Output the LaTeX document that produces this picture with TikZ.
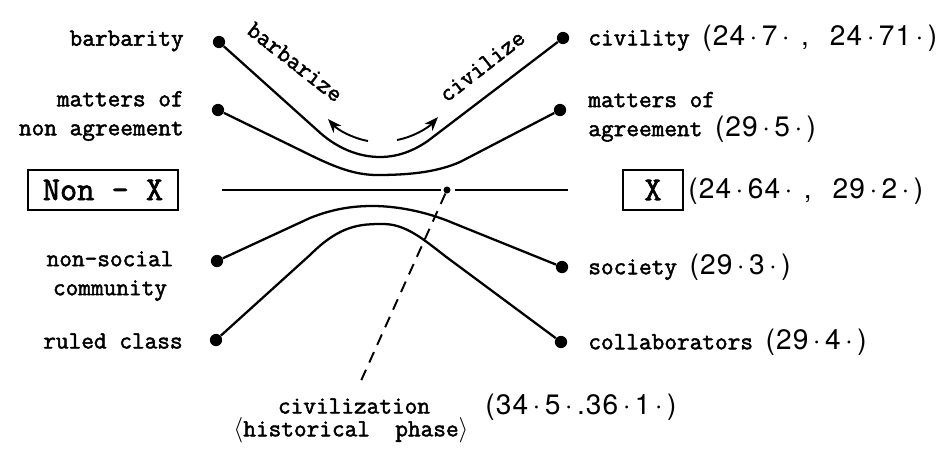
\documentclass[tikz,border=0pt]{standalone}
\usepackage{fontspec}
\newfontfamily\twfont{Latin Modern Mono}[FakeBold=2]
\newfontfamily\numfont{TeX Gyre Heros}[LetterSpace=4]
\usetikzlibrary{arrows.meta}
\newcommand{\md}{\kern2.5pt·\kern2.5pt}
\newcommand{\nums}[1]{{\fontsize{16}{18}\numfont #1}}

\begin{document}
\begin{tikzpicture}[x=0.02cm, y=-0.02cm,
    every node/.style={font=\fontsize{14}{16.5}\twfont, inner sep=0pt},
    dot/.style={circle, fill=black, minimum size=7pt},
    crossdot/.style={circle, fill=black, minimum size=4pt},
    boxed/.style={draw, line width=1.1pt, font=\fontsize{19}{22}\twfont, minimum height=22.7pt},
    curveline/.style={line width=1.3pt},
    axis/.style={line width=1.7pt},
    turn/.style={line width=1.1pt, -{Stealth[length=8pt, width=6pt, inset=2.5pt]}}]

\useasboundingbox (0,0) rectangle (950,450);

% end dots on the left
\node[dot] (bar) at (219,42) {};
\node[dot] (nag) at (218,110) {};
\node[dot] (nsc) at (217,261) {};
\node[dot] (rul) at (216,340) {};

% end dots on the right
\node[dot] (civ) at (563,38) {};
\node[dot] (agr) at (560,110) {};
\node[dot] (soc) at (562,267) {};
\node[dot] (col) at (561,342) {};

% middle line
\coordinate (axl) at (222,190);
\coordinate (axr) at (568,190);
\node[crossdot] (mid) at (447,190) {};
\coordinate (dashend) at (360,383);

% labels on the left
\node[anchor=east] (lbar) at (184,41) {barbarity};
\node[anchor=east, align=right] (lnag) at (184,116) {matters of\\non agreement};
\node[boxed, minimum width=85pt] (nonx) at (103,190) {Non - X};
\node[align=center] (lnsc) at (110,276) {non-social\\community};
\node[anchor=east] (lrul) at (183,341) {ruled class};

% labels on the right
\node[anchor=west] (lciv) at (588,38) {civility \nums{(24\md 7\md\hspace{4pt},\hspace{12pt}24\md 71\md)}};
\node[anchor=west, align=left] (lagr) at (588,117) {matters of\\agreement \nums{(29\md 5\md)}};
\node[boxed, minimum width=34pt] (xbox) at (653,190) {X};
\node[anchor=west] (lx) at (688,191) {\nums{(24\md 64\md\hspace{4pt},\hspace{12pt}29\md 2\md)}};
\node[anchor=west] (lsoc) at (588,267) {society \nums{(29\md 3\md)}};
\node[anchor=west] (lcol) at (588,342) {collaborators \nums{(29\md 4\md)}};

% bottom
\node (phase) at (354,406) {civilization};
\node (hist) at (351,430) {$\langle$historical\ \ phase$\rangle$};
\node[anchor=west] (lphase) at (485,407) {\nums{(34\md 5\md.36\md 1\md)}};

% verbs
\node[rotate=-38] (lbarb) at (295,62) {barbarize};
\node[rotate=38] (lcivz) at (482,66) {civilize};

% curves
\draw[curveline] (bar) -- (317,130) .. controls (335,147) and (357,157) .. (380,157)
    .. controls (400,157) and (418,149) .. (433,137) -- (civ);
\draw[curveline] (nag) -- (300,150) .. controls (330,165) and (352,175) .. (377,175)
    .. controls (405,175) and (435,173) .. (460,162) -- (agr);
\draw[curveline] (nsc) -- (310,218) .. controls (335,208) and (355,206) .. (373,206)
    .. controls (395,206) and (425,211) .. (453,223) -- (soc);
\draw[curveline] (rul) -- (310,255) .. controls (340,225) and (360,224) .. (383,224)
    .. controls (405,224) and (422,238) .. (445,256) -- (col);

% middle line and dashed pointer
\draw[axis, shorten >=1.5pt] (axl) -- (mid);
\draw[axis, shorten <=2.5pt] (mid) -- (axr);
\draw[line width=1.1pt, dash pattern=on 6.5pt off 4.5pt] (mid) -- (dashend);

% arrows
\coordinate (ba1) at (368,141);
\coordinate (ba2) at (328,119);
\coordinate (ca1) at (397,140);
\coordinate (ca2) at (438,117);
\draw[turn] (ba1) .. controls (352,138) and (338,130) .. (ba2);
\draw[turn] (ca1) .. controls (413,137) and (428,128) .. (ca2);

\end{tikzpicture}
\end{document}
